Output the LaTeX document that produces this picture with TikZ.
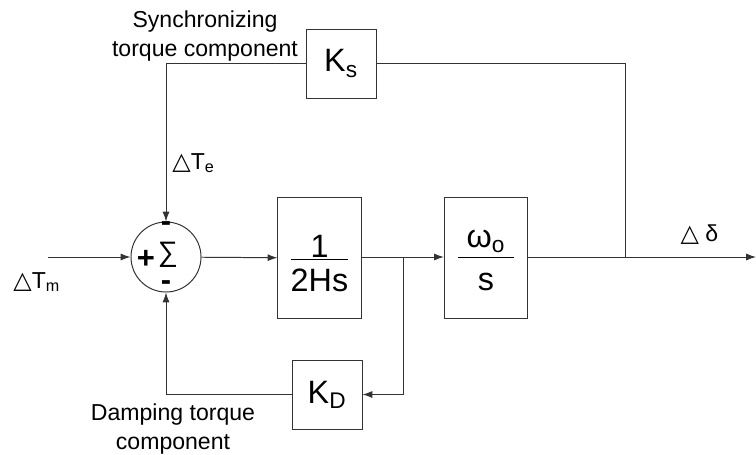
\documentclass[tikz,border=0pt]{standalone}
\usepackage{fontspec}
\setmainfont{Liberation Sans}
\newfontfamily\symfont{DejaVu Sans}
\usetikzlibrary{arrows.meta,positioning}
\definecolor{linegray}{HTML}{333333}
\newcommand{\dlt}{{\symfont\fontsize{17}{17}\selectfont △}}
% fraction: numerator, denominator, bar length, gap under numerator, shift down
\newcommand{\frc}[5]{{\renewcommand{\arraystretch}{0.75}%
  \raisebox{-#5}[\height][\depth]{\begin{tabular}{@{}c@{}}\makebox[#3]{#1}\\[#4]\hline\rule{0pt}{23pt}#2\end{tabular}}}}

\begin{document}
\begin{tikzpicture}[
  x=0.025cm, y=-0.025cm,
  >={Latex[length=7pt,width=5pt]},
  line width=0.7pt,
  block/.style={rectangle, draw=linegray, inner sep=0pt, minimum width=1.75cm, minimum height=1.725cm, align=center, font=\fontsize{23}{27}\selectfont},
  tall/.style={block, minimum width=2.08cm, minimum height=3cm},
  summer/.style={circle, draw=linegray, minimum size=1.75cm, inner sep=0pt},
  sign/.style={font=\bfseries\fontsize{22}{22}\selectfont, inner sep=0pt},
  lbl/.style={font=\fontsize{16.4}{20}\selectfont, inner sep=0pt},
  flow/.style={->, draw=linegray, line width=0.7pt}
]
  \useasboundingbox (0,0) rectangle (756,454);
  % blocks
  \node[summer] (sum) at (166,257) {};
  \node[font=\fontsize{20}{20}\selectfont, inner sep=0pt] (sigma) at (168,255) {∑};
  \node[sign] (plus) at (146,259) {+};
  \node[sign] (mtop) at (166,227) {-};
  \node[sign] (mbot) at (166,286) {-};
  \node[tall] (inertia) at (319.5,258) {\frc{1}{2Hs}{1.4cm}{-5pt}{7pt}};
  \node[tall] (integ) at (486,258) {\frc{ω\textsubscript{o}}{s}{1.4cm}{1pt}{3.5pt}};
  \node[block] (ks) at (341,63.5) {K\textsubscript{s}};
  \node[block] (kd) at (327,394.5) {K\textsubscript{D}};
  % junctions and free ends
  \coordinate (in) at (48,257);
  \coordinate (b1) at (403,257);
  \coordinate (b2) at (625,257);
  \coordinate (out) at (756,257);
  % signals
  \draw[flow] (in) -- (sum);
  \draw[flow] (sum) -- (inertia);
  \draw[flow] (inertia.east |- b1) -- (integ.west |- b1);
  \draw[flow] (integ.east |- b2) -- (out);
  \draw[linegray] (ks.east) -| (b2);
  \draw[flow] (ks.west) -| (sum.north);
  \draw[flow] (b1) |- (kd.east);
  \draw[flow] (kd.west) -| (sum.south);
  % labels
  \node[lbl, align=center] (synclbl) at (205,36) {Synchronizing\\torque component};
  \node[lbl, align=center] (damplbl) at (173,429) {Damping torque\\component};
  \node[lbl, anchor=west] (te) at (172,163) {\dlt T\textsubscript{e}};
  \node[lbl, anchor=west] (tm) at (13,282) {\dlt T\textsubscript{m}};
  \node[lbl, anchor=west] (dd) at (680,235) {\dlt\ δ};
\end{tikzpicture}
\end{document}
